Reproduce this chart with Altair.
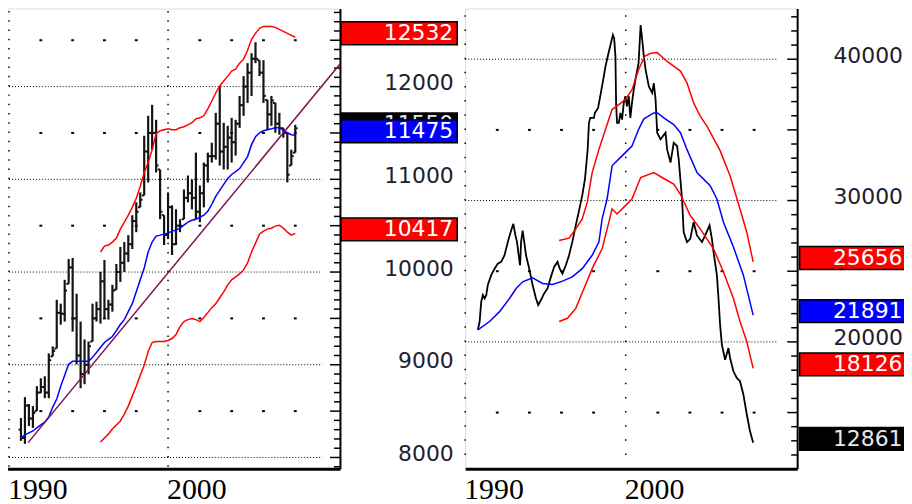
import altair as alt
import pandas as pd

# ------------------------------------------------------------------ data
# Left panel: quarterly OHLC bars (first bar 1990 Q4)
L_FIRST_T = 1990.75
L_STEP_T = 0.25
L_HIGH = [8426, 8651, 8576, 8554, 8769, 8855, 8876, 9123, 9198, 9701,
          9659, 9916, 10141, 10152, 9766, 9466, 9273, 9251, 9659, 9680,
          10002, 10130, 9701, 9862, 10087, 10270, 10323, 10398, 10613, 10752,
          10859, 11470, 11685, 11803, 11642, 11106, 10613, 10859, 10720, 10677,
          10570, 10891, 11041, 10999, 11288, 10934, 11181, 11288, 11395, 11717,
          12006, 11610, 11577, 11663, 11642, 11899, 12113, 12253, 12360, 12478,
          12285, 12285, 11856, 11899, 11824, 11717, 11556, 11502, 11320, 11588]
L_LOW = [8179, 8147, 8340, 8319, 8501, 8694, 8640, 8640, 9090, 9176,
         9433, 9466, 9873, 9358, 9005, 8747, 8790, 8898, 9251, 9466,
         9444, 9498, 9487, 9573, 9809, 9894, 10002, 10109, 10248, 10430,
         10698, 10827, 10966, 11320, 11074, 10570, 10291, 10355, 10184, 10291,
         10430, 10570, 10752, 10677, 10570, 10538, 10698, 10966, 11181, 11213,
         11149, 11106, 11106, 11181, 11256, 11556, 11685, 11824, 11899, 12253,
         12113, 11824, 11535, 11577, 11502, 11481, 11449, 10966, 11149, 11288]
L_CLOSE = [8210, 8560, 8420, 8480, 8700, 8760, 8700, 9050, 9150, 9560,
           9550, 9800, 10050, 9500, 9100, 8900, 9000, 9200, 9500, 9600,
           9900, 9600, 9650, 9800, 10000, 10100, 10200, 10300, 10550, 10650,
           10780, 11300, 11500, 11500, 11150, 10650, 10400, 10700, 10300, 10500,
           10500, 10800, 10850, 10800, 10650, 10850, 11150, 11250, 11250, 11600,
           11300, 11350, 11450, 11400, 11600, 11800, 12000, 12150, 12300, 12300,
           12150, 11900, 11700, 11850, 11600, 11550, 11500, 11050, 11250, 11550]
L_FIRST_OPEN = 8300
L_MA = [8211, 8244, 8265, 8286, 8319, 8351, 8383, 8436, 8544, 8630,
        8769, 8887, 9005, 9037, 9037, 9037, 9037, 9037, 9080, 9133,
        9187, 9240, 9273, 9305, 9369, 9434, 9487, 9573, 9659, 9787,
        9916, 10044, 10216, 10323, 10388, 10398, 10409, 10420, 10441, 10452,
        10473, 10505, 10538, 10559, 10570, 10591, 10613, 10656, 10731, 10816,
        10881, 10945, 11009, 11052, 11084, 11116, 11181, 11245, 11374, 11460,
        11502, 11524, 11535, 11545, 11556, 11556, 11535, 11502, 11481, 11475]
L_BAND_FIRST = 20  # bands begin at this bar
L_UPPER = [10216, 10280, 10291, 10323, 10366, 10463, 10538, 10613, 10698, 10795,
           10924, 11074, 11181, 11320, 11492, 11524, 11535, 11545, 11535, 11535,
           11556, 11567, 11588, 11610, 11652, 11663, 11685, 11760, 11845, 11931,
           12006, 12060, 12113, 12167, 12188, 12253, 12296, 12392, 12510, 12574,
           12628, 12649, 12649, 12649, 12639, 12617, 12596, 12574, 12553, 12532]
L_LOWER = [8168, 8211, 8254, 8308, 8351, 8394, 8469, 8554, 8662, 8769,
           8887, 8994, 9144, 9240, 9251, 9251, 9251, 9262, 9283, 9326,
           9412, 9466, 9487, 9498, 9487, 9466, 9509, 9562, 9616, 9659,
           9723, 9787, 9862, 9916, 9948, 9980, 10023, 10098, 10216, 10312,
           10409, 10441, 10463, 10473, 10495, 10505, 10473, 10430, 10398, 10417]
L_TREND_T = [1991.2, 2010.8]
L_TREND_V = [8160, 12240]
L_TAG_V = [11550, 11475, 12532, 10417]
L_TAG_FILL = ["#000000", "#0000ff", "#ff0000", "#ff0000"]
L_TAG_TEXT = ["#e8e8e8", "#ffffff", "#ffffff", "#ffffff"]
L_YLABELS = [8000, 9000, 10000, 11000, 12000]
L_HALF_ROWS = [8500, 9500, 10500, 11500, 12500]

# Right panel: close line, moving average and bands
R_T = [1990.79, 1990.90, 1991.00, 1991.10, 1991.21, 1991.31, 1991.41, 1991.62, 1991.83, 1992.03,
       1992.24, 1992.45, 1992.55, 1992.71, 1992.86, 1993.00, 1993.13, 1993.23, 1993.33, 1993.42,
       1993.48, 1993.58, 1993.68, 1993.79, 1993.99, 1994.20, 1994.41, 1994.55, 1994.72, 1994.92,
       1995.13, 1995.34, 1995.54, 1995.75, 1995.89, 1996.06, 1996.27, 1996.47, 1996.67, 1996.89,
       1997.09, 1997.29, 1997.46, 1997.54, 1997.63, 1997.71, 1997.79, 1998.02, 1998.08, 1998.28,
       1998.43, 1998.58, 1998.74, 1998.90, 1999.05, 1999.20, 1999.28, 1999.36, 1999.40, 1999.46,
       1999.57, 1999.67, 1999.77, 1999.88, 1999.98, 2000.08, 2000.19, 2000.29, 2000.39, 2000.50,
       2000.60, 2000.80, 2000.93, 2001.03, 2001.13, 2001.24, 2001.44, 2001.65, 2001.75, 2001.86,
       2001.96, 2002.17, 2002.48, 2002.58, 2002.79, 2002.99, 2003.20, 2003.30, 2003.51, 2003.61,
       2003.82, 2004.02, 2004.23, 2004.44, 2004.75, 2004.95, 2005.22, 2005.37, 2005.47, 2005.68,
       2005.78, 2005.88, 2005.99, 2006.19, 2006.40, 2006.50, 2006.71, 2006.92, 2007.12, 2007.33,
       2007.54, 2007.74, 2007.94]
R_V = [20850, 21440, 22840, 23310, 23070, 23310, 24020, 24720, 25180, 25540,
       25660, 26130, 26590, 27290, 27880, 28350, 27530, 27060, 26130, 25420,
       27060, 27880, 27060, 26130, 25180, 24020, 23070, 22610, 22960, 23430,
       23780, 24600, 25300, 25660, 25180, 24830, 25420, 26130, 27060, 28240,
       29290, 30350, 31510, 32460, 33620, 35500, 35850, 35850, 36200, 36550,
       37490, 38430, 39490, 40300, 41010, 41710, 41480, 40190, 36910, 35500,
       35500, 36200, 35730, 36910, 37380, 36670, 37380, 35850, 36910, 37840,
       38540, 39720, 42410, 41360, 40190, 39250, 38080, 37610, 38310, 37140,
       34800, 34330, 34800, 33620, 32690, 34090, 33860, 32920, 30110, 27760,
       27060, 27290, 28470, 27530, 27060, 27530, 28240, 27290, 26360, 24720,
       23070, 21200, 19800, 18740, 19560, 18860, 17920, 17450, 17220, 16280,
       14880, 13700, 12861]
R_MA_T = [1990.79, 1991.52, 1992.14, 1992.76, 1993.17, 1993.58, 1994.20, 1994.82, 1995.44, 1996.06,
          1996.67, 1997.29, 1997.91, 1998.33, 1998.53, 1998.84, 1999.15, 1999.77, 2000.39, 2000.80,
          2001.13, 2001.75, 2001.98, 2002.37, 2002.99, 2003.41, 2003.82, 2004.44, 2005.26, 2005.68,
          2006.09, 2006.71, 2007.33, 2007.94]
R_MA_V = [20850, 21440, 22140, 23070, 23780, 24250, 24530, 24130, 24060, 24300,
          24600, 25180, 26130, 27060, 28700, 30110, 32460, 33160, 33860, 35030,
          35780, 36200, 36200, 35850, 35380, 34800, 33600, 31980, 31050, 30110,
          28470, 26710, 24720, 21891]
R_UP_T = [1995.85, 1996.47, 1996.89, 1997.29, 1997.60, 1997.91, 1998.33, 1998.74, 1999.15, 1999.57,
          1999.98, 2000.39, 2000.80, 2001.18, 2001.55, 2001.96, 2002.58, 2003.41, 2003.82, 2004.23,
          2004.64, 2005.06, 2005.88, 2006.50, 2007.12, 2007.54, 2007.94]
R_UP_V = [27180, 27340, 28000, 28700, 29870, 31980, 33620, 35030, 36440, 36790,
          37140, 37840, 39250, 40210, 40420, 40470, 39840, 39160, 38310, 36910,
          35970, 35270, 33530, 31750, 29400, 27760, 25656]
R_DN_T = [1995.85, 1996.37, 1996.89, 1997.40, 1997.91, 1998.53, 1998.95, 1999.15, 1999.46, 1999.98,
          2000.39, 2000.93, 2001.75, 2002.37, 2002.99, 2003.41, 2004.02, 2004.64, 2005.47, 2006.09,
          2006.71, 2007.12, 2007.54, 2007.94]
R_DN_V = [21440, 21670, 22370, 23780, 25180, 26590, 28470, 29400, 29050, 29640,
          30110, 31630, 31980, 31560, 31160, 30440, 28940, 28000, 26590, 24950,
          23070, 21440, 20030, 18126]
R_TAG_V = [25656, 21891, 18126, 12861]
R_TAG_FILL = ["#ff0000", "#0000ff", "#ff0000", "#000000"]
R_TAG_TEXT = ["#ffffff", "#ffffff", "#ffffff", "#e8e8e8"]
R_YLABELS = [20000, 30000, 40000]
R_HALF_ROWS = [15000, 25000, 35000]

DECADES = [1990, 2000]
DASH_YEARS = [1992, 1994, 1996, 1998, 2002, 2004, 2006, 2008]

# ------------------------------------------------------------------ layout / style
LW, LH = 336, 463
RW, RH = 334, 463
L_XDOM = [1989.81, 2010.81]
L_YDOM = [7879, 12842]
R_XDOM = [1990.0, 2010.68]
R_YDOM = [11028, 43586]
LABEL_FONT = "DejaVu Sans"
LABEL_COLOR = "#202030"
YEAR_FONT = "Liberation Serif"


def panel(W, H, xdom, ydom, ylabels, half_rows, tick_step, major_step,
          dot_base, dot_step, grid_end, label_pad, label_offset,
          tag_x0, tag_x1, tag_tx, tag_v, tag_fill, tag_text, data_layers):
    xs = alt.Scale(domain=xdom, nice=False, zero=False)
    ys = alt.Scale(domain=ydom, nice=False, zero=False)
    ppu = H / (ydom[1] - ydom[0])
    period = dot_step * ppu

    x_axis = alt.Axis(values=DECADES, labels=False, ticks=False, tickSize=0,
                      domainColor="black", domainWidth=3, grid=False, title=None)
    label_axis = alt.Axis(orient="right", values=ylabels, format="d", ticks=False, tickSize=0,
                          labelPadding=label_pad, labelAlign="right", labelFont=LABEL_FONT,
                          labelFontSize=22, labelColor=LABEL_COLOR, labelOffset=label_offset,
                          labelOverlap=False, labelFlush=False,
                          domain=True, domainColor="black", domainWidth=2, grid=False, title=None)

    vdf = pd.DataFrame({"t": DECADES, "y0": [dot_base] * 2, "y1": [ydom[1]] * 2,
                        "label": [str(d) for d in DECADES]})
    vlines = alt.Chart(vdf).mark_rule(color="black", strokeWidth=1.5,
                                      strokeDash=[1.5, period - 1.5]).encode(
        x=alt.X("t:Q", scale=xs, axis=x_axis),
        y=alt.Y("y0:Q", scale=ys, axis=None),
        y2="y1:Q")
    year_labels = alt.Chart(vdf).mark_text(align="left", baseline="alphabetic", dx=-1,
                                           font=YEAR_FONT, fontSize=30, color="black").encode(
        x=alt.X("t:Q", scale=xs, axis=None), y=alt.value(H + 30), text="label:N")

    gdf = pd.DataFrame({"v": ylabels, "x0": [1990] * len(ylabels), "x1": [grid_end] * len(ylabels)})
    hgrid = alt.Chart(gdf).mark_rule(color="black", strokeWidth=1, strokeDash=[1, 2]).encode(
        x=alt.X("x0:Q", scale=xs, axis=None), x2="x1:Q",
        y=alt.Y("v:Q", scale=ys, axis=label_axis))

    hd = pd.DataFrame([(yr - 0.09, yr + 0.09, v) for yr in DASH_YEARS for v in half_rows],
                      columns=["x0", "x1", "v"])
    dashes = alt.Chart(hd).mark_rule(color="black", strokeWidth=2).encode(
        x=alt.X("x0:Q", scale=xs, axis=None), x2="x1:Q",
        y=alt.Y("v:Q", scale=ys, axis=None))

    # inward-pointing ticks on the right-hand value axis
    first_tick = int(-(-ydom[0] // tick_step) * tick_step)
    tick_vals = list(range(first_tick, int(ydom[1]) + 1, tick_step))
    minor = pd.DataFrame({"v": [v for v in tick_vals if v % major_step]})
    major = pd.DataFrame({"v": [v for v in tick_vals if v % major_step == 0]})
    minor_ticks = alt.Chart(minor).mark_rule(color="black", strokeWidth=1.5).encode(
        y=alt.Y("v:Q", scale=ys, axis=None), x=alt.value(W - 6), x2=alt.value(W))
    major_ticks = alt.Chart(major).mark_rule(color="black", strokeWidth=1.5).encode(
        y=alt.Y("v:Q", scale=ys, axis=None), x=alt.value(W - 10), x2=alt.value(W))

    layers = [vlines, year_labels, hgrid, dashes, minor_ticks, major_ticks]
    for df, mk, props in data_layers:
        base = alt.Chart(df)
        if mk == "line":
            m = base.mark_line(**props).encode(
                x=alt.X("t:Q", scale=xs, axis=None), y=alt.Y("v:Q", scale=ys, axis=None))
        elif mk == "vrule":
            m = base.mark_rule(**props).encode(
                x=alt.X("t:Q", scale=xs, axis=None),
                y=alt.Y("lo:Q", scale=ys, axis=None), y2="hi:Q")
        else:  # horizontal tick segments
            m = base.mark_rule(**props).encode(
                x=alt.X("x0:Q", scale=xs, axis=None), x2="x1:Q",
                y=alt.Y("v:Q", scale=ys, axis=None))
        layers.append(m)

    for v, f, tc in zip(tag_v, tag_fill, tag_text):
        tdf = pd.DataFrame({"v": [v], "label": [str(v)]})
        layers.append(alt.Chart(tdf).mark_rect(height=23, yOffset=-4, fill=f, stroke="black",
                                               strokeWidth=1.5).encode(
            y=alt.Y("v:Q", scale=ys, axis=None), x=alt.value(tag_x0), x2=alt.value(tag_x1)))
        layers.append(alt.Chart(tdf).mark_text(align="right", baseline="middle", dy=-4,
                                               font=LABEL_FONT, fontSize=22, color=tc).encode(
            y=alt.Y("v:Q", scale=ys, axis=None), x=alt.value(tag_tx), text="label:N"))

    return (alt.layer(*layers)
            .resolve_axis(x="independent", y="independent")
            .properties(width=W, height=H))


# ---------------- left panel frames
n = len(L_HIGH)
bar_t = [L_FIRST_T + L_STEP_T * i for i in range(n)]
opens = [L_FIRST_OPEN] + L_CLOSE[:-1]
opens = [min(max(o, lo), hi) for o, lo, hi in zip(opens, L_LOW, L_HIGH)]
bars_df = pd.DataFrame({"t": bar_t, "lo": L_LOW, "hi": L_HIGH})
open_df = pd.DataFrame({"x0": [t - 0.15 for t in bar_t], "x1": bar_t, "v": opens})
close_df = pd.DataFrame({"x0": bar_t, "x1": [t + 0.15 for t in bar_t], "v": L_CLOSE})
ma_df = pd.DataFrame({"t": bar_t, "v": L_MA})
up_df = pd.DataFrame({"t": bar_t[L_BAND_FIRST:], "v": L_UPPER})
dn_df = pd.DataFrame({"t": bar_t[L_BAND_FIRST:], "v": L_LOWER})
tr_df = pd.DataFrame({"t": L_TREND_T, "v": L_TREND_V})

BAR_C = "#141414"
left_layers = [
    (bars_df, "vrule", dict(color=BAR_C, strokeWidth=2.2)),
    (open_df, "htick", dict(color=BAR_C, strokeWidth=2)),
    (close_df, "htick", dict(color=BAR_C, strokeWidth=2)),
    (ma_df, "line", dict(color="#0000ff", strokeWidth=1.5)),
    (up_df, "line", dict(color="#ff0000", strokeWidth=1.5)),
    (dn_df, "line", dict(color="#ff0000", strokeWidth=1.5)),
    (tr_df, "line", dict(color="#7a1450", strokeWidth=1.5, clip=True)),
]
left = panel(LW, LH, L_XDOM, L_YDOM, L_YLABELS, L_HALF_ROWS, 100, 500, 7900, 100, 2009.7,
             114, -4, LW + 1, LW + 118, LW + 114, L_TAG_V, L_TAG_FILL, L_TAG_TEXT, left_layers)

# ---------------- right panel frames (tags run off the right edge, as in the original)
right_layers = [
    (pd.DataFrame({"t": R_T, "v": R_V}), "line", dict(color="black", strokeWidth=1.8)),
    (pd.DataFrame({"t": R_MA_T, "v": R_MA_V}), "line", dict(color="#0000ff", strokeWidth=1.5)),
    (pd.DataFrame({"t": R_UP_T, "v": R_UP_V}), "line", dict(color="#ff0000", strokeWidth=1.5)),
    (pd.DataFrame({"t": R_DN_T, "v": R_DN_V}), "line", dict(color="#ff0000", strokeWidth=1.5)),
]
right = panel(RW, RH, R_XDOM, R_YDOM, R_YLABELS, R_HALF_ROWS, 1000, 5000, 12000, 1000, 2009.5,
              106, -4, RW + 2.5, RW + 112, RW + 106, R_TAG_V, R_TAG_FILL, R_TAG_TEXT, right_layers)

# total drawing kept at 896 px wide so the page does not shrink it
chart = alt.hconcat(left, right, spacing=4).properties(
    padding={"left": -3, "top": -3, "right": -6.5, "bottom": 0}
).configure_view(strokeWidth=0).configure(background="white")

chart.save("out.html", embed_options={"renderer": "svg", "actions": False})
